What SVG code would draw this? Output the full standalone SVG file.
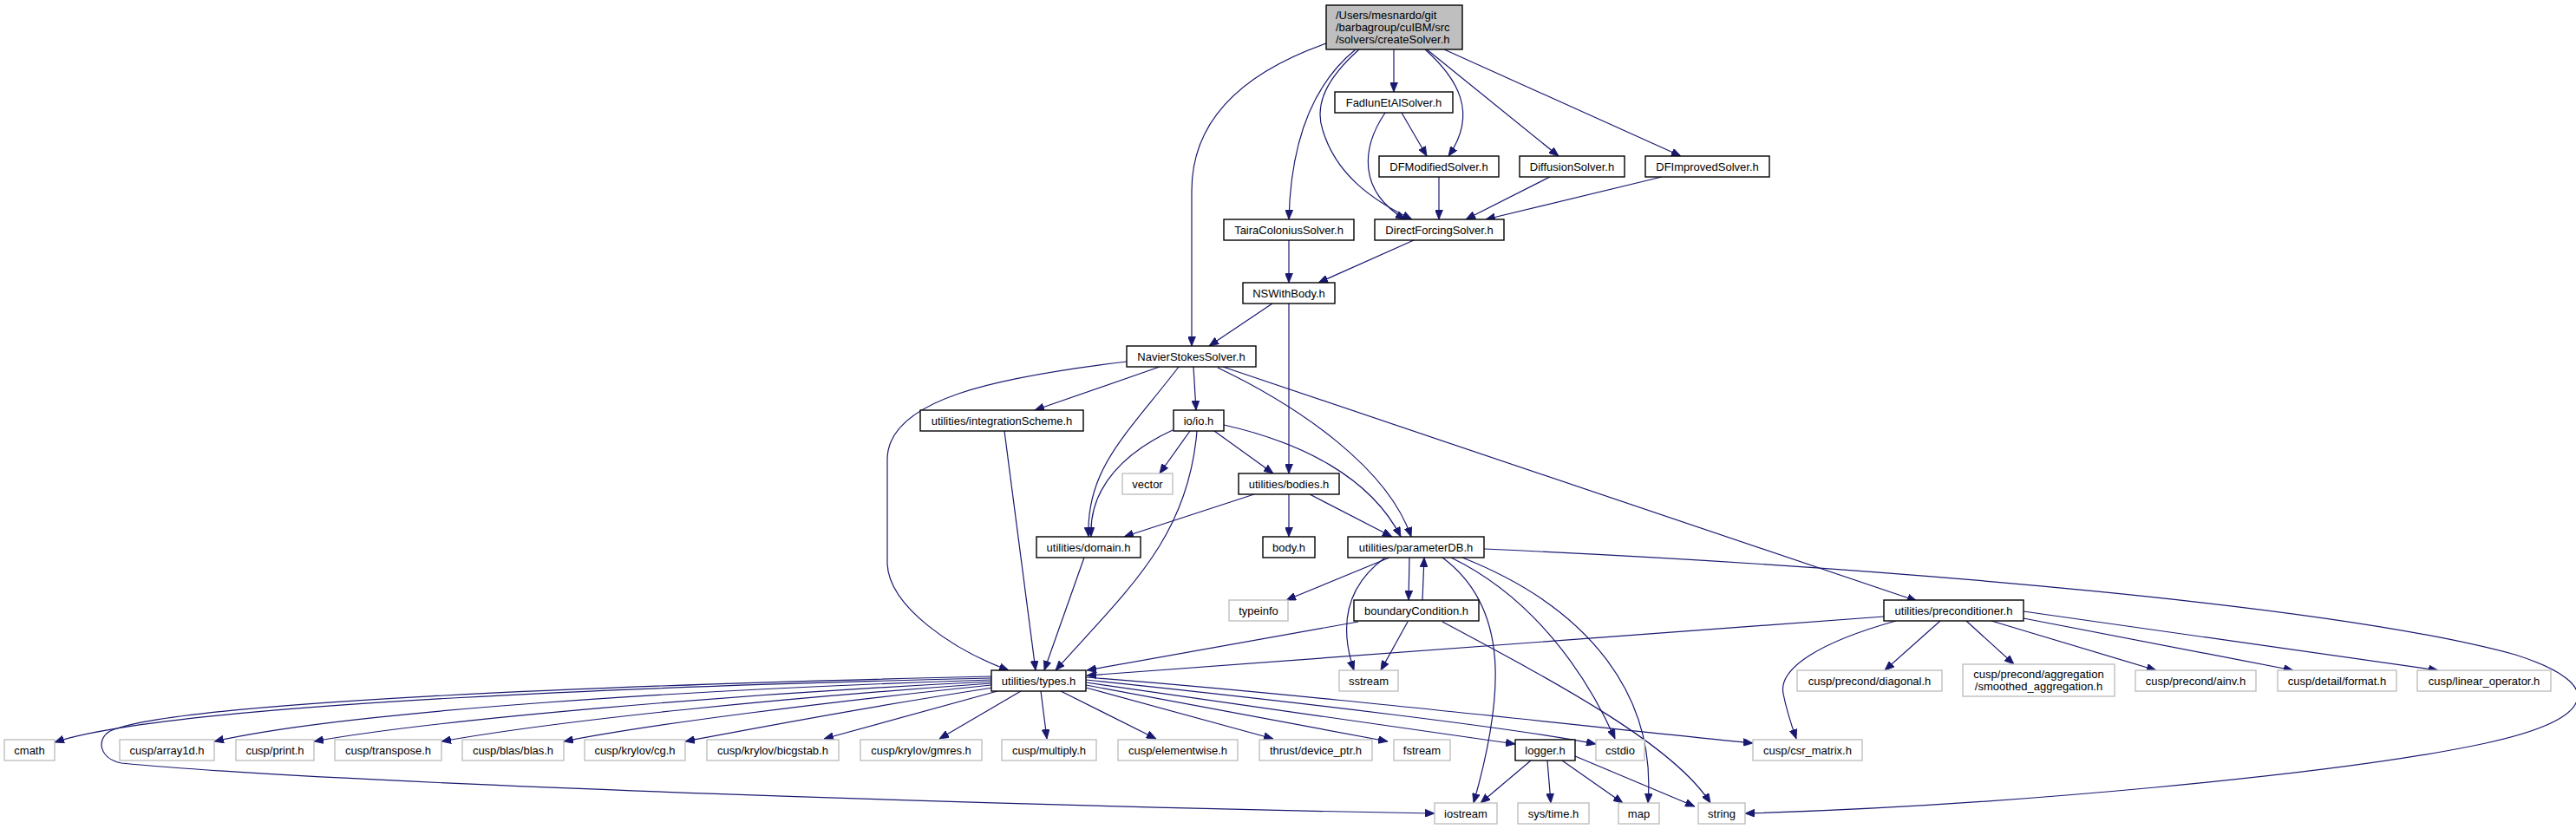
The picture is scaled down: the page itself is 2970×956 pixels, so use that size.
<svg xmlns="http://www.w3.org/2000/svg" width="2970" height="956" viewBox="0 0 2970 956">
<style>
.n rect{fill:#fff;stroke:#000;stroke-width:1.4}
.x rect{fill:#fff;stroke:#bfbfbf;stroke-width:1.4}
.r rect{fill:#bfbfbf;stroke:#000;stroke-width:1.4}
text{font-family:"Liberation Sans",Arial,sans-serif;font-size:13px;fill:#000}
.c{text-anchor:middle}
#edges path{fill:none;stroke:#191970;stroke-width:1.2;marker-end:url(#ah)}
</style>
<defs>
<marker id="ah" viewBox="0 0 11 9" refX="11" refY="4.5" markerWidth="11" markerHeight="9" markerUnits="userSpaceOnUse" orient="auto">
<path d="M0,0 L11,4.5 L0,9 z" fill="#191970" stroke="#191970" stroke-width="0.8"/>
</marker>
</defs>
<rect x="0" y="0" width="2970" height="956" fill="#fff"/>
<g id="edges">
<path d="M1529,50 C1430,85 1374,140 1374,220 L1374,399"/>
<path d="M1563,57 C1510,100 1488,170 1486,253"/>
<path d="M1567,57 C1530,90 1515,120 1525,150 C1540,200 1580,230 1628,253"/>
<path d="M1607,57 L1607,106"/>
<path d="M1643,57 C1680,90 1705,130 1670,180"/>
<path d="M1645,57 L1797,180"/>
<path d="M1665,57 L1938,180"/>
<path d="M1616,130 L1645,180"/>
<path d="M1597,130 C1570,170 1565,220 1620,253"/>
<path d="M1659,204 L1659,253"/>
<path d="M1787,204 L1690,253"/>
<path d="M1916,204 L1713,253"/>
<path d="M1486,277 L1486,326"/>
<path d="M1630,277 L1520,326"/>
<path d="M1467,350 L1394,399"/>
<path d="M1486,350 L1486,546"/>
<path d="M1299,417 C1150,435 1023,460 1023,530 L1023,650 C1025,700 1100,750 1163,773"/>
<path d="M1337,423 L1193,473"/>
<path d="M1359,423 C1300,500 1252,540 1255,619"/>
<path d="M1376,423 L1379,473"/>
<path d="M1404,424 C1500,470 1600,540 1627,619"/>
<path d="M1410,423 L2210,693"/>
<path d="M1352,496 C1300,520 1255,560 1258,619"/>
<path d="M1372,497 L1337,546"/>
<path d="M1380,497 C1370,620 1300,680 1217,773"/>
<path d="M1400,497 L1468,546"/>
<path d="M1411,490 C1500,510 1580,550 1615,619"/>
<path d="M1158,497 L1194,773"/>
<path d="M1446,570 L1296,619"/>
<path d="M1486,570 L1486,619"/>
<path d="M1510,570 L1605,619"/>
<path d="M1250,643 L1204,773"/>
<path d="M1602,643 L1483,692"/>
<path d="M1597,643 C1560,670 1540,710 1561,773"/>
<path d="M1625,643 L1624,692"/>
<path d="M1640,692 L1642,643"/>
<path d="M1663,643 C1740,700 1735,800 1699,926"/>
<path d="M1673,643 C1770,690 1830,780 1862,852"/>
<path d="M1686,643 C1830,700 1910,800 1900,926"/>
<path d="M1711,633 C2200,655 2700,700 2900,755 C3010,790 2990,830 2866,857 C2700,893 2300,930 2012,938"/>
<path d="M1566,717 L1253,773"/>
<path d="M1623,717 L1592,773"/>
<path d="M1663,717 C1800,790 1930,860 1972,926"/>
<path d="M2172,711 L1253,779"/>
<path d="M2186,716 C2100,740 2050,770 2056,800 C2060,820 2065,835 2071,852"/>
<path d="M2237,716 L2173,773"/>
<path d="M2267,716 L2322,766"/>
<path d="M2296,716 L2486,773"/>
<path d="M2333,713 L2644,773"/>
<path d="M2333,705 L2811,773"/>
<path d="M1143,782 C800,790 200,810 63,856"/>
<path d="M1143,784 C800,795 400,820 247,855"/>
<path d="M1143,786 C850,800 500,830 362,855"/>
<path d="M1143,788 C900,805 650,830 509,855"/>
<path d="M1143,790 C950,810 750,835 650,855"/>
<path d="M1145,793 C1000,815 880,838 790,855"/>
<path d="M1150,797 L950,852"/>
<path d="M1177,797 L1083,852"/>
<path d="M1200,797 L1207,852"/>
<path d="M1223,797 L1333,852"/>
<path d="M1252,793 L1468,852"/>
<path d="M1252,790 L1600,855"/>
<path d="M1252,787 L1747,858"/>
<path d="M1252,784 C1500,810 1750,840 1840,858"/>
<path d="M1252,781 C1500,800 1850,840 2021,857"/>
<path d="M1143,780 C700,790 200,810 127,843 C110,853 115,875 140,880 C400,905 1200,930 1654,938"/>
<path d="M1765,877 L1707,926"/>
<path d="M1784,877 L1788,926"/>
<path d="M1801,877 L1871,926"/>
<path d="M1816,872 L1954,930"/>
</g>
<g id="createSolver" class="r"><rect x="1529" y="6" width="157" height="51"/><text x="1540" y="21.5">/Users/mesnardo/git</text><text x="1540" y="35.5">/barbagroup/cuIBM/src</text><text x="1540" y="49.5">/solvers/createSolver.h</text></g>
<g id="FadlunEtAlSolver" class="n"><rect x="1539" y="106" width="136" height="24"/><text class="c" x="1607" y="122.5">FadlunEtAlSolver.h</text></g>
<g id="DFModifiedSolver" class="n"><rect x="1590" y="180" width="138" height="24"/><text class="c" x="1659" y="196.5">DFModifiedSolver.h</text></g>
<g id="DiffusionSolver" class="n"><rect x="1752" y="180" width="121" height="24"/><text class="c" x="1812.5" y="196.5">DiffusionSolver.h</text></g>
<g id="DFImprovedSolver" class="n"><rect x="1897" y="180" width="143" height="24"/><text class="c" x="1968.5" y="196.5">DFImprovedSolver.h</text></g>
<g id="TairaColoniusSolver" class="n"><rect x="1411" y="253" width="150" height="24"/><text class="c" x="1486" y="269.5">TairaColoniusSolver.h</text></g>
<g id="DirectForcingSolver" class="n"><rect x="1585" y="253" width="149" height="24"/><text class="c" x="1659.5" y="269.5">DirectForcingSolver.h</text></g>
<g id="NSWithBody" class="n"><rect x="1433" y="326" width="106" height="24"/><text class="c" x="1486" y="342.5">NSWithBody.h</text></g>
<g id="NavierStokesSolver" class="n"><rect x="1299" y="399" width="149" height="24"/><text class="c" x="1373.5" y="415.5">NavierStokesSolver.h</text></g>
<g id="integrationScheme" class="n"><rect x="1061" y="473" width="188" height="24"/><text class="c" x="1155" y="489.5">utilities/integrationScheme.h</text></g>
<g id="io" class="n"><rect x="1353" y="473" width="58" height="24"/><text class="c" x="1382" y="489.5">io/io.h</text></g>
<g id="vector" class="x"><rect x="1294" y="546" width="58" height="24"/><text class="c" x="1323" y="562.5">vector</text></g>
<g id="bodies" class="n"><rect x="1428" y="546" width="116" height="24"/><text class="c" x="1486" y="562.5">utilities/bodies.h</text></g>
<g id="domain" class="n"><rect x="1195" y="619" width="120" height="24"/><text class="c" x="1255" y="635.5">utilities/domain.h</text></g>
<g id="body" class="n"><rect x="1456" y="619" width="60" height="24"/><text class="c" x="1486" y="635.5">body.h</text></g>
<g id="parameterDB" class="n"><rect x="1554" y="619" width="157" height="24"/><text class="c" x="1632.5" y="635.5">utilities/parameterDB.h</text></g>
<g id="typeinfo" class="x"><rect x="1417" y="692" width="68" height="24"/><text class="c" x="1451" y="708.5">typeinfo</text></g>
<g id="boundaryCondition" class="n"><rect x="1561" y="692" width="144" height="24"/><text class="c" x="1633" y="708.5">boundaryCondition.h</text></g>
<g id="preconditioner" class="n"><rect x="2172" y="692" width="161" height="24"/><text class="c" x="2252.5" y="708.5">utilities/preconditioner.h</text></g>
<g id="types" class="n"><rect x="1143" y="773" width="109" height="24"/><text class="c" x="1197.5" y="789.5">utilities/types.h</text></g>
<g id="sstream" class="x"><rect x="1544" y="773" width="68" height="24"/><text class="c" x="1578" y="789.5">sstream</text></g>
<g id="diagonal" class="x"><rect x="2072" y="773" width="167" height="24"/><text class="c" x="2155.5" y="789.5">cusp/precond/diagonal.h</text></g>
<g id="smoothed_aggregation" class="x"><rect x="2263" y="766" width="175" height="37"/><text class="c" x="2350.5" y="782">cusp/precond/aggregation</text><text class="c" x="2350.5" y="796">/smoothed_aggregation.h</text></g>
<g id="ainv" class="x"><rect x="2462" y="773" width="139" height="24"/><text class="c" x="2531.5" y="789.5">cusp/precond/ainv.h</text></g>
<g id="format" class="x"><rect x="2626" y="773" width="137" height="24"/><text class="c" x="2694.5" y="789.5">cusp/detail/format.h</text></g>
<g id="linear_operator" class="x"><rect x="2787" y="773" width="154" height="24"/><text class="c" x="2864" y="789.5">cusp/linear_operator.h</text></g>
<g id="cmath" class="x"><rect x="5" y="853" width="58" height="24"/><text class="c" x="34" y="869.5">cmath</text></g>
<g id="array1d" class="x"><rect x="138" y="853" width="109" height="24"/><text class="c" x="192.5" y="869.5">cusp/array1d.h</text></g>
<g id="print" class="x"><rect x="272" y="853" width="90" height="24"/><text class="c" x="317" y="869.5">cusp/print.h</text></g>
<g id="transpose" class="x"><rect x="386" y="853" width="123" height="24"/><text class="c" x="447.5" y="869.5">cusp/transpose.h</text></g>
<g id="blas" class="x"><rect x="533" y="853" width="117" height="24"/><text class="c" x="591.5" y="869.5">cusp/blas/blas.h</text></g>
<g id="cg" class="x"><rect x="674" y="853" width="116" height="24"/><text class="c" x="732" y="869.5">cusp/krylov/cg.h</text></g>
<g id="bicgstab" class="x"><rect x="815" y="853" width="152" height="24"/><text class="c" x="891" y="869.5">cusp/krylov/bicgstab.h</text></g>
<g id="gmres" class="x"><rect x="992" y="853" width="140" height="24"/><text class="c" x="1062" y="869.5">cusp/krylov/gmres.h</text></g>
<g id="multiply" class="x"><rect x="1155" y="853" width="109" height="24"/><text class="c" x="1209.5" y="869.5">cusp/multiply.h</text></g>
<g id="elementwise" class="x"><rect x="1289" y="853" width="138" height="24"/><text class="c" x="1358" y="869.5">cusp/elementwise.h</text></g>
<g id="device_ptr" class="x"><rect x="1452" y="853" width="130" height="24"/><text class="c" x="1517" y="869.5">thrust/device_ptr.h</text></g>
<g id="fstream" class="x"><rect x="1607" y="853" width="65" height="24"/><text class="c" x="1639.5" y="869.5">fstream</text></g>
<g id="logger" class="n"><rect x="1747" y="853" width="69" height="24"/><text class="c" x="1781.5" y="869.5">logger.h</text></g>
<g id="cstdio" class="x"><rect x="1840" y="853" width="56" height="24"/><text class="c" x="1868" y="869.5">cstdio</text></g>
<g id="csr_matrix" class="x"><rect x="2021" y="853" width="126" height="24"/><text class="c" x="2084" y="869.5">cusp/csr_matrix.h</text></g>
<g id="iostream" class="x"><rect x="1654" y="926" width="72" height="24"/><text class="c" x="1690" y="942.5">iostream</text></g>
<g id="systime" class="x"><rect x="1750" y="926" width="82" height="24"/><text class="c" x="1791" y="942.5">sys/time.h</text></g>
<g id="map" class="x"><rect x="1866" y="926" width="47" height="24"/><text class="c" x="1889.5" y="942.5">map</text></g>
<g id="string" class="x"><rect x="1958" y="926" width="54" height="24"/><text class="c" x="1985" y="942.5">string</text></g>
</svg>
